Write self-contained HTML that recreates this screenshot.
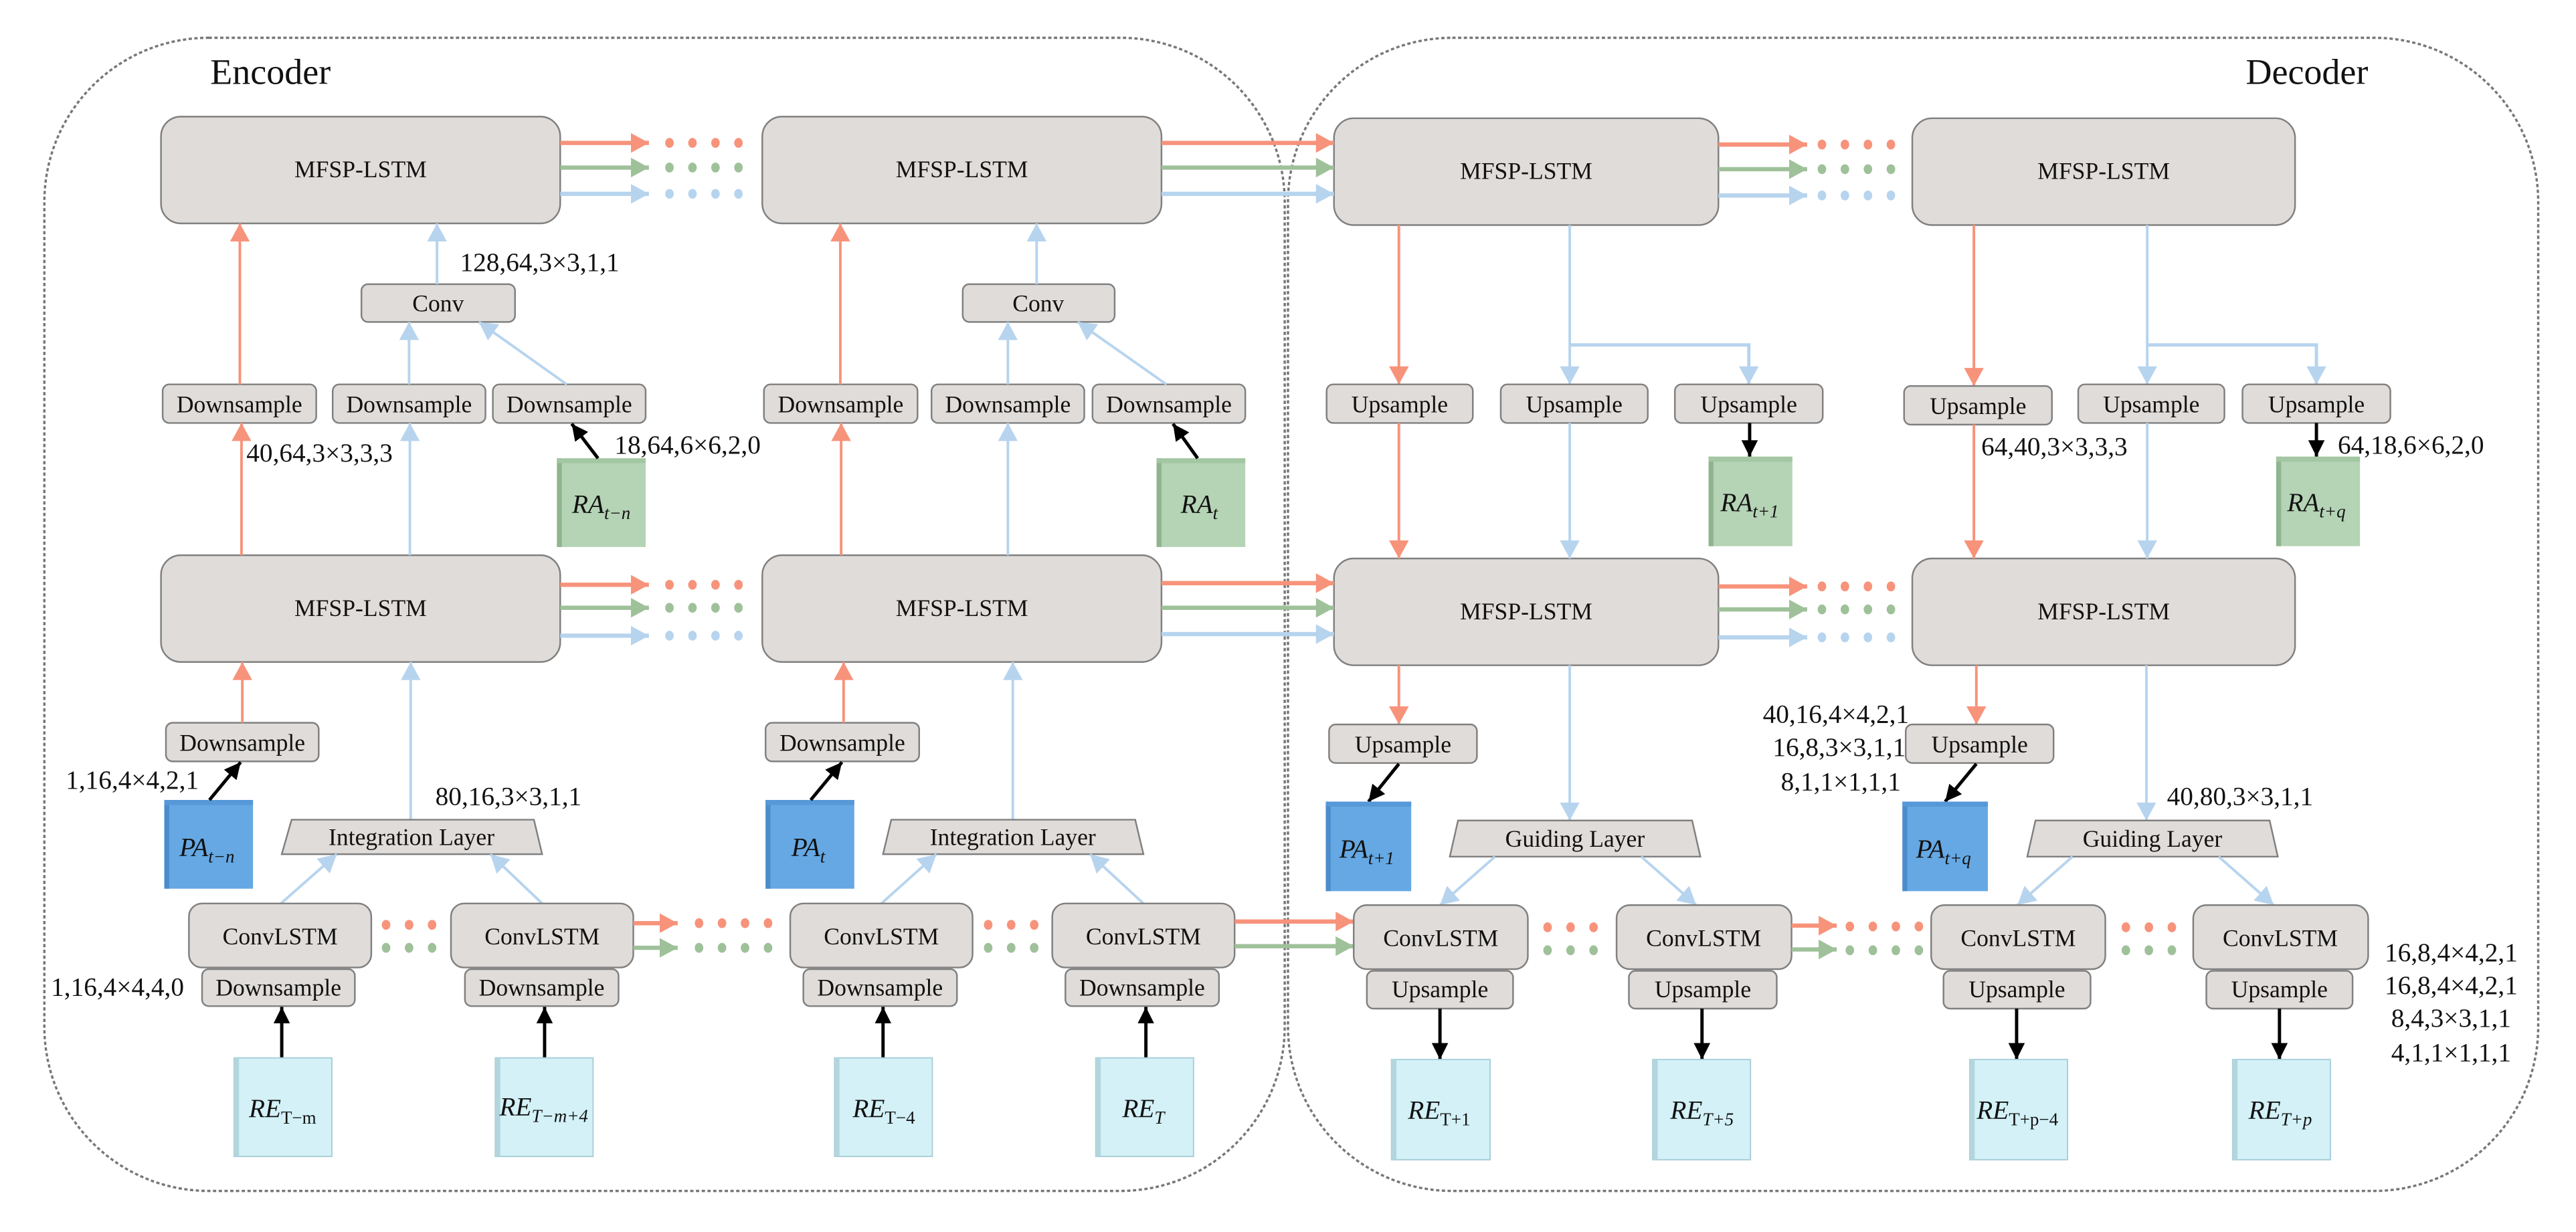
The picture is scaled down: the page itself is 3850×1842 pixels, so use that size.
<!DOCTYPE html>
<html><head><meta charset="utf-8"><style>
html,body{margin:0;padding:0;background:#fff;}
svg{display:block;}
text{font-family:"Liberation Serif",serif;fill:#111;}
.bx{fill:#e0dcd9;stroke:#808080;stroke-width:1;}
.t{font-size:14.5px;text-anchor:middle;}
.l{font-size:16px;}
.r{stroke:#f7937b;fill:none;}
.g{stroke:#9fc19a;fill:none;}
.b{stroke:#b7d4ee;fill:none;}
.k{stroke:#000;fill:none;stroke-width:2;}
.h{stroke-width:2.6;}
.v{stroke-width:1.6;}
.dr{fill:#f7937b}.dg{fill:#9fc19a}.db{fill:#b7d4ee}
.it{font-style:italic;font-size:16px;text-anchor:middle;}
</style></head><body>
<svg width="3850" height="1842" viewBox="0 0 1568 750" preserveAspectRatio="none" xmlns="http://www.w3.org/2000/svg">
<defs>
<marker id="mr" markerUnits="userSpaceOnUse" markerWidth="12" markerHeight="12" refX="11" refY="6" orient="auto"><path d="M0,0L11,6L0,12z" fill="#f7937b"/></marker>
<marker id="mg" markerUnits="userSpaceOnUse" markerWidth="12" markerHeight="12" refX="11" refY="6" orient="auto"><path d="M0,0L11,6L0,12z" fill="#9fc19a"/></marker>
<marker id="mb" markerUnits="userSpaceOnUse" markerWidth="12" markerHeight="12" refX="11" refY="6" orient="auto"><path d="M0,0L11,6L0,12z" fill="#b7d4ee"/></marker>
<marker id="mk" markerUnits="userSpaceOnUse" markerWidth="11" markerHeight="10" refX="10" refY="5" orient="auto"><path d="M0,0L10,5L0,10z" fill="#000"/></marker>
</defs>
<rect width="1568" height="750" fill="#fff"/>
<!-- dashed containers -->
<rect x="27" y="23" width="755" height="702" rx="100" fill="none" stroke="#777" stroke-width="1.4" stroke-dasharray="2,1.5"/>
<rect x="784" y="23" width="761" height="702" rx="100" fill="none" stroke="#777" stroke-width="1.4" stroke-dasharray="2,1.5"/>
<text x="128" y="51" font-size="22">Encoder</text>
<text x="1367" y="51" font-size="22">Decoder</text>

<!-- MFSP boxes -->
<rect class="bx" x="98" y="71" width="243" height="65" rx="12"/><text class="t" x="219.5" y="108">MFSP-LSTM</text>
<rect class="bx" x="464" y="71" width="243" height="65" rx="12"/><text class="t" x="585.5" y="108">MFSP-LSTM</text>
<rect class="bx" x="812" y="72" width="234" height="65" rx="12"/><text class="t" x="929" y="109">MFSP-LSTM</text>
<rect class="bx" x="1164" y="72" width="233" height="65" rx="12"/><text class="t" x="1280.5" y="109">MFSP-LSTM</text>
<rect class="bx" x="98" y="338" width="243" height="65" rx="12"/><text class="t" x="219.5" y="375">MFSP-LSTM</text>
<rect class="bx" x="464" y="338" width="243" height="65" rx="12"/><text class="t" x="585.5" y="375">MFSP-LSTM</text>
<rect class="bx" x="812" y="340" width="234" height="65" rx="12"/><text class="t" x="929" y="377">MFSP-LSTM</text>
<rect class="bx" x="1164" y="340" width="233" height="65" rx="12"/><text class="t" x="1280.5" y="377">MFSP-LSTM</text>

<!-- horizontal arrows top row -->
<line class="r h" x1="341" y1="87" x2="395" y2="87" marker-end="url(#mr)"/>
<line class="g h" x1="341" y1="102" x2="395" y2="102" marker-end="url(#mg)"/>
<line class="b h" x1="341" y1="118" x2="395" y2="118" marker-end="url(#mb)"/>
<g class="dr"><ellipse cx="407.5" cy="87" rx="2.6" ry="3"/><ellipse cx="421.5" cy="87" rx="2.6" ry="3"/><ellipse cx="435.5" cy="87" rx="2.6" ry="3"/><ellipse cx="449.5" cy="87" rx="2.6" ry="3"/></g>
<g class="dg"><ellipse cx="407.5" cy="102" rx="2.6" ry="3"/><ellipse cx="421.5" cy="102" rx="2.6" ry="3"/><ellipse cx="435.5" cy="102" rx="2.6" ry="3"/><ellipse cx="449.5" cy="102" rx="2.6" ry="3"/></g>
<g class="db"><ellipse cx="407.5" cy="118" rx="2.6" ry="3"/><ellipse cx="421.5" cy="118" rx="2.6" ry="3"/><ellipse cx="435.5" cy="118" rx="2.6" ry="3"/><ellipse cx="449.5" cy="118" rx="2.6" ry="3"/></g>
<line class="r h" x1="707" y1="87" x2="812" y2="87" marker-end="url(#mr)"/>
<line class="g h" x1="707" y1="102" x2="812" y2="102" marker-end="url(#mg)"/>
<line class="b h" x1="707" y1="118" x2="812" y2="118" marker-end="url(#mb)"/>
<line class="r h" x1="1046" y1="88" x2="1100" y2="88" marker-end="url(#mr)"/>
<line class="g h" x1="1046" y1="103" x2="1100" y2="103" marker-end="url(#mg)"/>
<line class="b h" x1="1046" y1="119" x2="1100" y2="119" marker-end="url(#mb)"/>
<g class="dr"><ellipse cx="1109" cy="88" rx="2.6" ry="3"/><ellipse cx="1123" cy="88" rx="2.6" ry="3"/><ellipse cx="1137" cy="88" rx="2.6" ry="3"/><ellipse cx="1151" cy="88" rx="2.6" ry="3"/></g>
<g class="dg"><ellipse cx="1109" cy="103" rx="2.6" ry="3"/><ellipse cx="1123" cy="103" rx="2.6" ry="3"/><ellipse cx="1137" cy="103" rx="2.6" ry="3"/><ellipse cx="1151" cy="103" rx="2.6" ry="3"/></g>
<g class="db"><ellipse cx="1109" cy="119" rx="2.6" ry="3"/><ellipse cx="1123" cy="119" rx="2.6" ry="3"/><ellipse cx="1137" cy="119" rx="2.6" ry="3"/><ellipse cx="1151" cy="119" rx="2.6" ry="3"/></g>

<!-- horizontal arrows row 2 -->
<line class="r h" x1="341" y1="356" x2="395" y2="356" marker-end="url(#mr)"/>
<line class="g h" x1="341" y1="370" x2="395" y2="370" marker-end="url(#mg)"/>
<line class="b h" x1="341" y1="387" x2="395" y2="387" marker-end="url(#mb)"/>
<g class="dr"><ellipse cx="407.5" cy="356" rx="2.6" ry="3"/><ellipse cx="421.5" cy="356" rx="2.6" ry="3"/><ellipse cx="435.5" cy="356" rx="2.6" ry="3"/><ellipse cx="449.5" cy="356" rx="2.6" ry="3"/></g>
<g class="dg"><ellipse cx="407.5" cy="370" rx="2.6" ry="3"/><ellipse cx="421.5" cy="370" rx="2.6" ry="3"/><ellipse cx="435.5" cy="370" rx="2.6" ry="3"/><ellipse cx="449.5" cy="370" rx="2.6" ry="3"/></g>
<g class="db"><ellipse cx="407.5" cy="387" rx="2.6" ry="3"/><ellipse cx="421.5" cy="387" rx="2.6" ry="3"/><ellipse cx="435.5" cy="387" rx="2.6" ry="3"/><ellipse cx="449.5" cy="387" rx="2.6" ry="3"/></g>
<line class="r h" x1="707" y1="355" x2="812" y2="355" marker-end="url(#mr)"/>
<line class="g h" x1="707" y1="370" x2="812" y2="370" marker-end="url(#mg)"/>
<line class="b h" x1="707" y1="386" x2="812" y2="386" marker-end="url(#mb)"/>
<line class="r h" x1="1046" y1="357" x2="1100" y2="357" marker-end="url(#mr)"/>
<line class="g h" x1="1046" y1="371" x2="1100" y2="371" marker-end="url(#mg)"/>
<line class="b h" x1="1046" y1="388" x2="1100" y2="388" marker-end="url(#mb)"/>
<g class="dr"><ellipse cx="1109" cy="357" rx="2.6" ry="3"/><ellipse cx="1123" cy="357" rx="2.6" ry="3"/><ellipse cx="1137" cy="357" rx="2.6" ry="3"/><ellipse cx="1151" cy="357" rx="2.6" ry="3"/></g>
<g class="dg"><ellipse cx="1109" cy="371" rx="2.6" ry="3"/><ellipse cx="1123" cy="371" rx="2.6" ry="3"/><ellipse cx="1137" cy="371" rx="2.6" ry="3"/><ellipse cx="1151" cy="371" rx="2.6" ry="3"/></g>
<g class="db"><ellipse cx="1109" cy="388" rx="2.6" ry="3"/><ellipse cx="1123" cy="388" rx="2.6" ry="3"/><ellipse cx="1137" cy="388" rx="2.6" ry="3"/><ellipse cx="1151" cy="388" rx="2.6" ry="3"/></g>

<!-- ENCODER upper section -->
<rect class="bx" x="220" y="173" width="93.5" height="23" rx="4"/><text class="t" x="266.7" y="189.5">Conv</text>
<rect class="bx" x="586" y="173" width="92.5" height="23" rx="4"/><text class="t" x="632" y="189.5">Conv</text>
<line class="b v" x1="266" y1="173" x2="266" y2="136" marker-end="url(#mb)"/>
<line class="b v" x1="631" y1="173" x2="631" y2="136" marker-end="url(#mb)"/>
<text class="l" x="280" y="165">128,64,3×3,1,1</text>

<rect class="bx" x="99" y="234" width="93.5" height="23.5" rx="4"/><text class="t" x="145.7" y="251">Downsample</text>
<rect class="bx" x="202.5" y="234" width="93" height="23.5" rx="4"/><text class="t" x="249" y="251">Downsample</text>
<rect class="bx" x="300" y="234" width="93" height="23.5" rx="4"/><text class="t" x="346.5" y="251">Downsample</text>
<rect class="bx" x="465" y="234" width="93.5" height="23.5" rx="4"/><text class="t" x="511.7" y="251">Downsample</text>
<rect class="bx" x="567" y="234" width="93" height="23.5" rx="4"/><text class="t" x="613.5" y="251">Downsample</text>
<rect class="bx" x="665" y="234" width="93" height="23.5" rx="4"/><text class="t" x="711.5" y="251">Downsample</text>

<line class="r v" x1="146" y1="234" x2="146" y2="136" marker-end="url(#mr)"/>
<line class="r v" x1="511.5" y1="234" x2="511.5" y2="136" marker-end="url(#mr)"/>
<line class="b v" x1="249" y1="234" x2="249" y2="196" marker-end="url(#mb)"/>
<line class="b v" x1="345" y1="234" x2="291.5" y2="196" marker-end="url(#mb)"/>
<line class="b v" x1="613.5" y1="234" x2="613.5" y2="196" marker-end="url(#mb)"/>
<line class="b v" x1="710" y1="234" x2="656" y2="196" marker-end="url(#mb)"/>

<line class="r v" x1="147" y1="338" x2="147" y2="257.5" marker-end="url(#mr)"/>
<line class="b v" x1="249.5" y1="338" x2="249.5" y2="257.5" marker-end="url(#mb)"/>
<line class="r v" x1="512" y1="338" x2="512" y2="257.5" marker-end="url(#mr)"/>
<line class="b v" x1="613.5" y1="338" x2="613.5" y2="257.5" marker-end="url(#mb)"/>
<text class="l" x="150" y="281">40,64,3×3,3,3</text>
<text class="l" x="374" y="276">18,64,6×6,2,0</text>

<!-- RA boxes -->
<g>
<rect x="339" y="279" width="54" height="54" fill="#b5d3b5"/><rect x="339" y="279" width="3" height="54" fill="#8fb48f"/><rect x="339" y="279" width="54" height="3" fill="#a3c6a3"/>
<text class="it" x="366" y="312">RA<tspan font-size="11" dy="4">t−n</tspan></text>
<rect x="704" y="279" width="54" height="54" fill="#b5d3b5"/><rect x="704" y="279" width="3" height="54" fill="#8fb48f"/><rect x="704" y="279" width="54" height="3" fill="#a3c6a3"/>
<text class="it" x="730" y="312">RA<tspan font-size="11" dy="4">t</tspan></text>
</g>
<line class="k" x1="364" y1="279" x2="348" y2="258" marker-end="url(#mk)"/>
<line class="k" x1="729" y1="279" x2="714" y2="258" marker-end="url(#mk)"/>

<!-- ENCODER lower -->
<rect class="bx" x="101" y="440" width="93" height="23.5" rx="4"/><text class="t" x="147.5" y="457">Downsample</text>
<rect class="bx" x="466" y="440" width="93.5" height="23.5" rx="4"/><text class="t" x="512.7" y="457">Downsample</text>
<line class="r v" x1="147.5" y1="440" x2="147.5" y2="403" marker-end="url(#mr)"/>
<line class="r v" x1="513.5" y1="440" x2="513.5" y2="403" marker-end="url(#mr)"/>
<line class="b v" x1="250" y1="499" x2="250" y2="403" marker-end="url(#mb)"/>
<line class="b v" x1="616.5" y1="499" x2="616.5" y2="403" marker-end="url(#mb)"/>
<text class="l" x="40" y="480">1,16,4×4,2,1</text>
<text class="l" x="265" y="490">80,16,3×3,1,1</text>

<rect x="100" y="487" width="54" height="54" fill="#65a8e3"/><rect x="100" y="487" width="3" height="54" fill="#4d8ccc"/><rect x="100" y="487" width="54" height="3" fill="#5698d8"/>
<text class="it" x="126" y="521">PA<tspan font-size="11" dy="4">t−n</tspan></text>
<rect x="466" y="487" width="54" height="54" fill="#65a8e3"/><rect x="466" y="487" width="3" height="54" fill="#4d8ccc"/><rect x="466" y="487" width="54" height="3" fill="#5698d8"/>
<text class="it" x="492" y="521">PA<tspan font-size="11" dy="4">t</tspan></text>
<line class="k" x1="127.5" y1="487" x2="146.5" y2="464" marker-end="url(#mk)"/>
<line class="k" x1="493.5" y1="487" x2="512.5" y2="464" marker-end="url(#mk)"/>

<polygon class="bx" points="177.5,499 325,499 330,520 171.5,520"/><text class="t" x="250.5" y="514.5">Integration Layer</text>
<polygon class="bx" points="542.5,499 691,499 696,520 537.5,520"/><text class="t" x="616.5" y="514.5">Integration Layer</text>
<line class="b v" x1="171" y1="550" x2="205" y2="520" marker-end="url(#mb)"/>
<line class="b v" x1="330" y1="550" x2="298.5" y2="520" marker-end="url(#mb)"/>
<line class="b v" x1="536.5" y1="550" x2="570" y2="520" marker-end="url(#mb)"/>
<line class="b v" x1="696" y1="550" x2="663.5" y2="520" marker-end="url(#mb)"/>

<rect class="bx" x="115" y="550" width="111" height="39" rx="8"/><text class="t" x="170.5" y="575">ConvLSTM</text>
<rect class="bx" x="274.5" y="550" width="111" height="39" rx="8"/><text class="t" x="330" y="575">ConvLSTM</text>
<rect class="bx" x="481" y="550" width="111" height="39" rx="8"/><text class="t" x="536.5" y="575">ConvLSTM</text>
<rect class="bx" x="640.5" y="550" width="111" height="39" rx="8"/><text class="t" x="696" y="575">ConvLSTM</text>
<rect class="bx" x="123" y="590" width="93" height="22.5" rx="4"/><text class="t" x="169.5" y="606">Downsample</text>
<rect class="bx" x="283" y="590" width="93.5" height="22.5" rx="4"/><text class="t" x="329.7" y="606">Downsample</text>
<rect class="bx" x="489" y="590" width="93.5" height="22.5" rx="4"/><text class="t" x="535.7" y="606">Downsample</text>
<rect class="bx" x="648.5" y="590" width="93.5" height="22.5" rx="4"/><text class="t" x="695.2" y="606">Downsample</text>
<text class="l" x="31" y="606">1,16,4×4,4,0</text>

<g class="dr"><ellipse cx="235" cy="563" rx="2.6" ry="3"/><ellipse cx="249" cy="563" rx="2.6" ry="3"/><ellipse cx="263" cy="563" rx="2.6" ry="3"/>
<ellipse cx="601.5" cy="563" rx="2.6" ry="3"/><ellipse cx="615.5" cy="563" rx="2.6" ry="3"/><ellipse cx="629.5" cy="563" rx="2.6" ry="3"/>
<ellipse cx="425.5" cy="562" rx="2.6" ry="3"/><ellipse cx="439.5" cy="562" rx="2.6" ry="3"/><ellipse cx="453.5" cy="562" rx="2.6" ry="3"/><ellipse cx="467.5" cy="562" rx="2.6" ry="3"/></g>
<g class="dg"><ellipse cx="235" cy="577" rx="2.6" ry="3"/><ellipse cx="249" cy="577" rx="2.6" ry="3"/><ellipse cx="263" cy="577" rx="2.6" ry="3"/>
<ellipse cx="601.5" cy="577" rx="2.6" ry="3"/><ellipse cx="615.5" cy="577" rx="2.6" ry="3"/><ellipse cx="629.5" cy="577" rx="2.6" ry="3"/>
<ellipse cx="425.5" cy="577" rx="2.6" ry="3"/><ellipse cx="439.5" cy="577" rx="2.6" ry="3"/><ellipse cx="453.5" cy="577" rx="2.6" ry="3"/><ellipse cx="467.5" cy="577" rx="2.6" ry="3"/></g>
<line class="r h" x1="385.5" y1="562" x2="412.5" y2="562" marker-end="url(#mr)"/>
<line class="g h" x1="385.5" y1="577" x2="412.5" y2="577" marker-end="url(#mg)"/>
<line class="r h" x1="751.5" y1="561" x2="824" y2="561" marker-end="url(#mr)"/>
<line class="g h" x1="751.5" y1="576" x2="824" y2="576" marker-end="url(#mg)"/>

<line class="k" x1="171.5" y1="644" x2="171.5" y2="613" marker-end="url(#mk)"/>
<line class="k" x1="331.5" y1="644" x2="331.5" y2="613" marker-end="url(#mk)"/>
<line class="k" x1="537.5" y1="644" x2="537.5" y2="613" marker-end="url(#mk)"/>
<line class="k" x1="697.5" y1="644" x2="697.5" y2="613" marker-end="url(#mk)"/>

<g>
<rect x="142.5" y="644" width="59.5" height="60" fill="#d3f1f7" stroke="#a9cfd8" stroke-width="0.8"/><rect x="142.5" y="644" width="3" height="60" fill="#b3d6de"/>
<text class="it" x="172" y="680">RE<tspan font-size="11" dy="4" font-style="normal">T−m</tspan></text>
<rect x="301.5" y="644" width="59.5" height="60" fill="#d3f1f7" stroke="#a9cfd8" stroke-width="0.8"/><rect x="301.5" y="644" width="3" height="60" fill="#b3d6de"/>
<text class="it" x="331" y="679">RE<tspan font-size="11" dy="4">T−m+4</tspan></text>
<rect x="508" y="644" width="59.5" height="60" fill="#d3f1f7" stroke="#a9cfd8" stroke-width="0.8"/><rect x="508" y="644" width="3" height="60" fill="#b3d6de"/>
<text class="it" x="538" y="680">RE<tspan font-size="11" dy="4" font-style="normal">T−4</tspan></text>
<rect x="667" y="644" width="59.5" height="60" fill="#d3f1f7" stroke="#a9cfd8" stroke-width="0.8"/><rect x="667" y="644" width="3" height="60" fill="#b3d6de"/>
<text class="it" x="696" y="680">RE<tspan font-size="11" dy="4">T</tspan></text>
</g>

<!-- DECODER upper -->
<line class="r v" x1="851.5" y1="137" x2="851.5" y2="234" marker-end="url(#mr)"/>
<line class="b v" x1="955.5" y1="137" x2="955.5" y2="234" marker-end="url(#mb)"/>
<polyline class="b" stroke-width="2" points="955.5,210 1064.5,210 1064.5,234" marker-end="url(#mb)"/>
<line class="r v" x1="1201.5" y1="137" x2="1201.5" y2="235" marker-end="url(#mr)"/>
<line class="b v" x1="1307" y1="137" x2="1307" y2="234" marker-end="url(#mb)"/>
<polyline class="b" stroke-width="2" points="1307,210 1410,210 1410,234" marker-end="url(#mb)"/>

<rect class="bx" x="807.5" y="234" width="89" height="23.5" rx="4"/><text class="t" x="852" y="251">Upsample</text>
<rect class="bx" x="913.5" y="234" width="89.5" height="23.5" rx="4"/><text class="t" x="958.2" y="251">Upsample</text>
<rect class="bx" x="1019.5" y="234" width="90" height="23.5" rx="4"/><text class="t" x="1064.5" y="251">Upsample</text>
<rect class="bx" x="1159" y="235" width="90" height="23.5" rx="4"/><text class="t" x="1204" y="252">Upsample</text>
<rect class="bx" x="1265" y="234" width="89" height="23.5" rx="4"/><text class="t" x="1309.5" y="251">Upsample</text>
<rect class="bx" x="1365" y="234" width="90" height="23.5" rx="4"/><text class="t" x="1410" y="251">Upsample</text>

<line class="r v" x1="851.5" y1="257.5" x2="851.5" y2="340" marker-end="url(#mr)"/>
<line class="b v" x1="955.5" y1="257.5" x2="955.5" y2="340" marker-end="url(#mb)"/>
<line class="r v" x1="1201.5" y1="258.5" x2="1201.5" y2="340" marker-end="url(#mr)"/>
<line class="b v" x1="1307" y1="257.5" x2="1307" y2="340" marker-end="url(#mb)"/>
<line class="k" x1="1065" y1="257.5" x2="1065" y2="278" marker-end="url(#mk)"/>
<line class="k" x1="1410" y1="257.5" x2="1410" y2="278" marker-end="url(#mk)"/>

<rect x="1040" y="278" width="51" height="54.5" fill="#b5d3b5"/><rect x="1040" y="278" width="3" height="54.5" fill="#8fb48f"/><rect x="1040" y="278" width="51" height="3" fill="#a3c6a3"/>
<text class="it" x="1065" y="311">RA<tspan font-size="11" dy="4">t+1</tspan></text>
<rect x="1385.5" y="278" width="51" height="54.5" fill="#b5d3b5"/><rect x="1385.5" y="278" width="3" height="54.5" fill="#8fb48f"/><rect x="1385.5" y="278" width="51" height="3" fill="#a3c6a3"/>
<text class="it" x="1410" y="311">RA<tspan font-size="11" dy="4">t+q</tspan></text>
<text class="l" x="1206" y="277">64,40,3×3,3,3</text>
<text class="l" x="1423" y="276">64,18,6×6,2,0</text>

<!-- DECODER lower -->
<line class="r v" x1="851.5" y1="405" x2="851.5" y2="441" marker-end="url(#mr)"/>
<line class="r v" x1="1203" y1="405" x2="1203" y2="441" marker-end="url(#mr)"/>
<rect class="bx" x="809" y="441" width="90" height="23.5" rx="4"/><text class="t" x="854" y="458">Upsample</text>
<rect class="bx" x="1160" y="441" width="90" height="23.5" rx="4"/><text class="t" x="1205" y="458">Upsample</text>
<line class="k" x1="851.5" y1="465" x2="833" y2="488" marker-end="url(#mk)"/>
<line class="k" x1="1203" y1="465" x2="1184" y2="488" marker-end="url(#mk)"/>
<rect x="807" y="488" width="52" height="54.5" fill="#65a8e3"/><rect x="807" y="488" width="3" height="54.5" fill="#4d8ccc"/><rect x="807" y="488" width="52" height="3" fill="#5698d8"/>
<text class="it" x="832" y="522">PA<tspan font-size="11" dy="4">t+1</tspan></text>
<rect x="1158" y="488" width="52" height="54.5" fill="#65a8e3"/><rect x="1158" y="488" width="3" height="54.5" fill="#4d8ccc"/><rect x="1158" y="488" width="52" height="3" fill="#5698d8"/>
<text class="it" x="1183" y="522">PA<tspan font-size="11" dy="4">t+q</tspan></text>

<text class="l" x="1162" y="440" text-anchor="end">40,16,4×4,2,1</text>
<text class="l" x="1160" y="460" text-anchor="end">16,8,3×3,1,1</text>
<text class="l" x="1157" y="481" text-anchor="end">8,1,1×1,1,1</text>
<text class="l" x="1319" y="490">40,80,3×3,1,1</text>

<line class="b v" x1="955.5" y1="405" x2="955.5" y2="499.5" marker-end="url(#mb)"/>
<line class="b v" x1="1306.5" y1="405" x2="1306.5" y2="499.5" marker-end="url(#mb)"/>
<polygon class="bx" points="887.5,499.5 1030,499.5 1035,521.5 882.5,521.5"/><text class="t" x="958.7" y="515.5">Guiding Layer</text>
<polygon class="bx" points="1239,499.5 1381.5,499.5 1386.5,521.5 1234,521.5"/><text class="t" x="1310.2" y="515.5">Guiding Layer</text>
<line class="b v" x1="910" y1="521.5" x2="876.5" y2="551" marker-end="url(#mb)"/>
<line class="b v" x1="999" y1="521.5" x2="1032.5" y2="551" marker-end="url(#mb)"/>
<line class="b v" x1="1261.5" y1="521.5" x2="1228" y2="551" marker-end="url(#mb)"/>
<line class="b v" x1="1350.5" y1="521.5" x2="1384" y2="551" marker-end="url(#mb)"/>

<rect class="bx" x="824" y="551" width="106" height="39" rx="8"/><text class="t" x="877" y="576">ConvLSTM</text>
<rect class="bx" x="984" y="551" width="106.5" height="39" rx="8"/><text class="t" x="1037" y="576">ConvLSTM</text>
<rect class="bx" x="1175.5" y="551" width="106" height="39" rx="8"/><text class="t" x="1228.5" y="576">ConvLSTM</text>
<rect class="bx" x="1335" y="551" width="106.5" height="39" rx="8"/><text class="t" x="1388" y="576">ConvLSTM</text>
<rect class="bx" x="832" y="591" width="89" height="23" rx="4"/><text class="t" x="876.5" y="607">Upsample</text>
<rect class="bx" x="991.5" y="591" width="90" height="23" rx="4"/><text class="t" x="1036.5" y="607">Upsample</text>
<rect class="bx" x="1183" y="591" width="89.5" height="23" rx="4"/><text class="t" x="1227.7" y="607">Upsample</text>
<rect class="bx" x="1343" y="591" width="89" height="23" rx="4"/><text class="t" x="1387.5" y="607">Upsample</text>

<g class="dr"><ellipse cx="942" cy="564.5" rx="2.6" ry="3"/><ellipse cx="956" cy="564.5" rx="2.6" ry="3"/><ellipse cx="970" cy="564.5" rx="2.6" ry="3"/>
<ellipse cx="1294" cy="564.5" rx="2.6" ry="3"/><ellipse cx="1308" cy="564.5" rx="2.6" ry="3"/><ellipse cx="1322" cy="564.5" rx="2.6" ry="3"/>
<ellipse cx="1126" cy="564" rx="2.6" ry="3"/><ellipse cx="1140" cy="564" rx="2.6" ry="3"/><ellipse cx="1154" cy="564" rx="2.6" ry="3"/><ellipse cx="1168" cy="564" rx="2.6" ry="3"/></g>
<g class="dg"><ellipse cx="942" cy="578.5" rx="2.6" ry="3"/><ellipse cx="956" cy="578.5" rx="2.6" ry="3"/><ellipse cx="970" cy="578.5" rx="2.6" ry="3"/>
<ellipse cx="1294" cy="578.5" rx="2.6" ry="3"/><ellipse cx="1308" cy="578.5" rx="2.6" ry="3"/><ellipse cx="1322" cy="578.5" rx="2.6" ry="3"/>
<ellipse cx="1126" cy="578.5" rx="2.6" ry="3"/><ellipse cx="1140" cy="578.5" rx="2.6" ry="3"/><ellipse cx="1154" cy="578.5" rx="2.6" ry="3"/><ellipse cx="1168" cy="578.5" rx="2.6" ry="3"/></g>
<line class="r h" x1="1090.5" y1="563.5" x2="1118" y2="563.5" marker-end="url(#mr)"/>
<line class="g h" x1="1090.5" y1="578" x2="1118" y2="578" marker-end="url(#mg)"/>

<line class="k" x1="876.5" y1="614" x2="876.5" y2="645" marker-end="url(#mk)"/>
<line class="k" x1="1036" y1="614" x2="1036" y2="645" marker-end="url(#mk)"/>
<line class="k" x1="1227.5" y1="614" x2="1227.5" y2="645" marker-end="url(#mk)"/>
<line class="k" x1="1387.5" y1="614" x2="1387.5" y2="645" marker-end="url(#mk)"/>

<rect x="847" y="645" width="60" height="61" fill="#d3f1f7" stroke="#a9cfd8" stroke-width="0.8"/><rect x="847" y="645" width="3" height="61" fill="#b3d6de"/>
<text class="it" x="876" y="681">RE<tspan font-size="11" dy="4" font-style="normal">T+1</tspan></text>
<rect x="1006" y="645" width="59.5" height="61" fill="#d3f1f7" stroke="#a9cfd8" stroke-width="0.8"/><rect x="1006" y="645" width="3" height="61" fill="#b3d6de"/>
<text class="it" x="1036" y="681">RE<tspan font-size="11" dy="4">T+5</tspan></text>
<rect x="1199" y="645" width="59.5" height="61" fill="#d3f1f7" stroke="#a9cfd8" stroke-width="0.8"/><rect x="1199" y="645" width="3" height="61" fill="#b3d6de"/>
<text class="it" x="1228" y="681">RE<tspan font-size="11" dy="4" font-style="normal">T+p−4</tspan></text>
<rect x="1359" y="645" width="59.5" height="61" fill="#d3f1f7" stroke="#a9cfd8" stroke-width="0.8"/><rect x="1359" y="645" width="3" height="61" fill="#b3d6de"/>
<text class="it" x="1388" y="681">RE<tspan font-size="11" dy="4">T+p</tspan></text>

<text class="l" x="1492" y="585" text-anchor="middle">16,8,4×4,2,1</text>
<text class="l" x="1492" y="605" text-anchor="middle">16,8,4×4,2,1</text>
<text class="l" x="1492" y="625" text-anchor="middle">8,4,3×3,1,1</text>
<text class="l" x="1492" y="646" text-anchor="middle">4,1,1×1,1,1</text>
</svg>
</body></html>
